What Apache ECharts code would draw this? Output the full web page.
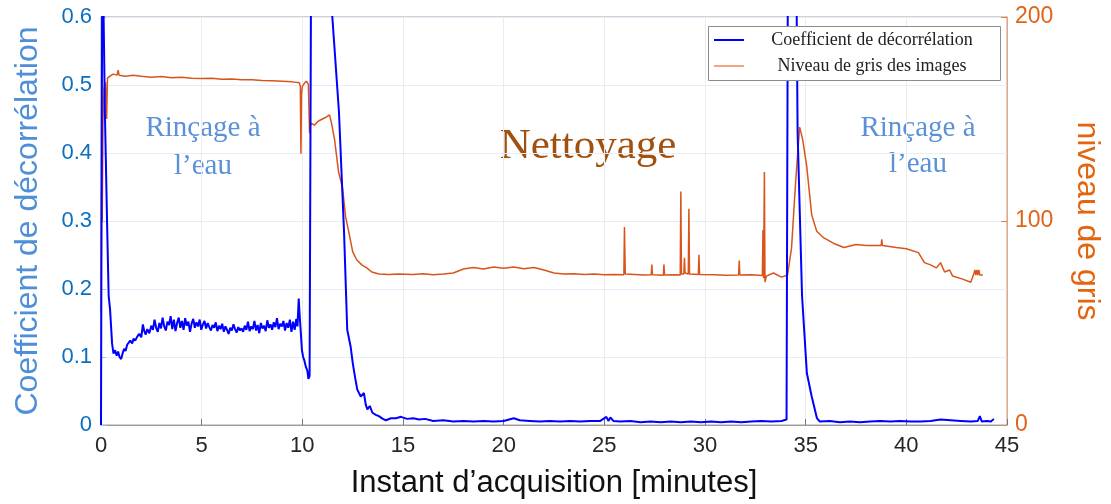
<!DOCTYPE html>
<html>
<head>
<meta charset="utf-8">
<script src="https://cdn.jsdelivr.net/npm/echarts@6/dist/echarts.min.js"></script>
<style>
  html, body { margin: 0; padding: 0; background: #fff; overflow: hidden; width: 1111px; height: 504px; }
  #chart { width: 1111px; height: 504px; }
</style>
</head>
<body>
<div id="chart"></div>
<script>
// coefficient de décorrélation (left axis), time in minutes
const tBlue = [0, 0.03, 0.07, 0.12, 0.2, 0.3, 0.38, 0.45, 0.55, 0.62, 0.7, 0.78, 0.85, 0.92, 1.0, 1.08, 1.15, 1.22, 1.3, 1.38,
  1.45, 1.55, 1.62, 1.7, 1.8, 1.9, 2.0, 2.08, 2.15, 2.22, 2.3, 2.4, 2.5, 2.58, 2.66, 2.74, 2.82, 2.9, 2.98, 3.06,
  3.14, 3.22, 3.3, 3.38, 3.46, 3.54, 3.62, 3.7, 3.78, 3.86, 3.94, 4.02, 4.1, 4.18, 4.26, 4.34, 4.42, 4.5, 4.58, 4.66,
  4.74, 4.82, 4.9, 4.98, 5.06, 5.14, 5.22, 5.3, 5.38, 5.46, 5.54, 5.62, 5.7, 5.78, 5.86, 5.94, 6.02, 6.1, 6.18, 6.26,
  6.34, 6.42, 6.5, 6.58, 6.66, 6.74, 6.82, 6.9, 6.98, 7.06, 7.14, 7.22, 7.3, 7.38, 7.46, 7.54, 7.62, 7.7, 7.78, 7.86,
  7.94, 8.02, 8.1, 8.18, 8.26, 8.34, 8.42, 8.5, 8.58, 8.66, 8.74, 8.82, 8.9, 8.98, 9.06, 9.14, 9.22, 9.3, 9.38, 9.46,
  9.54, 9.62, 9.7, 9.76, 9.82, 9.87, 9.92, 9.98, 10.04, 10.1, 10.18, 10.25, 10.3, 10.36, 10.5, 10.9, 11.3, 11.49, 11.82, 12.07,
  12.23, 12.4, 12.51, 12.62, 12.73, 12.9, 13.06, 13.15, 13.23, 13.35, 13.48, 13.65, 13.8, 14.0, 14.15, 14.4, 14.65, 14.9, 15.2, 15.5,
  15.8, 16.1, 16.5, 17.0, 17.5, 18.0, 18.5, 19.0, 19.5, 20.0, 20.5, 20.8, 21.3, 21.8, 22.3, 22.8, 23.3, 23.8, 24.3, 24.8,
  25.1, 25.2, 25.3, 25.45, 25.8, 26.3, 26.8, 27.3, 27.8, 28.3, 28.8, 29.3, 29.8, 30.3, 30.8, 31.3, 31.8, 32.3, 32.8, 33.3,
  33.8, 34.05, 34.15, 34.45, 34.6, 34.82, 35.06, 35.3, 35.56, 35.7, 36.2, 36.7, 37.2, 37.7, 38.2, 38.7, 39.2, 39.7, 40.2, 40.7,
  41.2, 41.7, 42.2, 42.7, 43.2, 43.55, 43.65, 43.75, 44.0, 44.2, 44.35];
const coefBlue = [0, 0.35, 0.75, 0.62, 0.45, 0.3, 0.19, 0.17, 0.12, 0.105, 0.11, 0.102, 0.108, 0.1, 0.097, 0.106, 0.112, 0.109, 0.118, 0.116,
  0.124, 0.12, 0.127, 0.124, 0.13, 0.134, 0.129, 0.148, 0.138, 0.133, 0.141, 0.135, 0.146, 0.14, 0.155, 0.143, 0.137, 0.15, 0.142, 0.158,
  0.145, 0.139, 0.152, 0.147, 0.16, 0.141, 0.155, 0.138, 0.15, 0.158, 0.143, 0.153, 0.14, 0.157, 0.146, 0.152, 0.137, 0.149, 0.156, 0.143,
  0.151, 0.145, 0.155, 0.14, 0.148, 0.153, 0.142, 0.15, 0.144, 0.139, 0.147, 0.143, 0.151, 0.138, 0.146, 0.141, 0.149, 0.137, 0.145, 0.14,
  0.134, 0.143, 0.139, 0.148, 0.141, 0.136, 0.144, 0.139, 0.142, 0.137, 0.146, 0.14, 0.152, 0.138, 0.145, 0.141, 0.153, 0.139, 0.147, 0.135,
  0.15, 0.142, 0.146, 0.138, 0.154, 0.143, 0.148, 0.14, 0.151, 0.144, 0.157, 0.141, 0.149, 0.145, 0.153, 0.139, 0.15, 0.143, 0.155, 0.137,
  0.152, 0.14, 0.156, 0.145, 0.186, 0.16, 0.138, 0.11, 0.1, 0.095, 0.085, 0.08, 0.068, 0.072, 1.2, 1.0, 0.75, 0.6, 0.46, 0.285,
  0.14, 0.115, 0.09, 0.07, 0.052, 0.042, 0.047, 0.03, 0.023, 0.028, 0.018, 0.015, 0.013, 0.009, 0.007, 0.01, 0.01, 0.012, 0.009, 0.01,
  0.008, 0.009, 0.006, 0.007, 0.005, 0.006, 0.005, 0.006, 0.005, 0.006, 0.01, 0.007, 0.006, 0.005, 0.006, 0.005, 0.006, 0.005, 0.006, 0.006,
  0.012, 0.006, 0.011, 0.006, 0.005, 0.006, 0.004, 0.005, 0.004, 0.005, 0.004, 0.005, 0.004, 0.005, 0.004, 0.005, 0.004, 0.005, 0.006, 0.005,
  0.006, 0.008, 1.0, 1.0, 0.43, 0.19, 0.076, 0.042, 0.01, 0.005, 0.006, 0.004, 0.005, 0.004, 0.005, 0.006, 0.005, 0.006, 0.005, 0.005,
  0.006, 0.008, 0.007, 0.006, 0.005, 0.006, 0.013, 0.005, 0.006, 0.005, 0.009];

// niveau de gris des images (right axis), time in minutes
const tGray = [0, 0.03, 0.06, 0.1, 0.15, 0.22, 0.28, 0.32, 0.45, 0.6, 0.8, 0.85, 0.9, 1.2, 1.6, 2.0, 2.5, 3.0, 3.5, 4.0,
  4.5, 5.0, 5.5, 6.0, 6.5, 7.0, 7.5, 8.0, 8.5, 9.0, 9.5, 9.85, 9.9, 9.93, 9.96, 10.0, 10.1, 10.2, 10.3, 10.36,
  10.42, 10.6, 10.8, 11.0, 11.2, 11.35, 11.45, 11.6, 11.8, 12.0, 12.15, 12.3, 12.5, 12.7, 12.95, 13.2, 13.45, 13.8, 14.3, 14.8,
  15.5, 16.0, 16.5, 17.0, 17.5, 18.0, 18.5, 19.0, 19.5, 20.0, 20.5, 21.0, 21.5, 22.0, 22.5, 23.0, 23.5, 24.0, 24.5, 25.0,
  25.5, 25.97, 26.0, 26.04, 26.5, 27.0, 27.33, 27.36, 27.39, 27.93, 27.96, 27.99, 28.5, 28.77, 28.8, 28.83, 28.95, 28.98, 29.01, 29.17,
  29.2, 29.23, 29.67, 29.7, 29.73, 30.5, 31.0, 31.67, 31.7, 31.73, 32.3, 32.85, 32.88, 32.91, 32.95, 32.98, 33.05, 33.4, 33.8, 34.1,
  34.3, 34.5, 34.7, 34.85, 35.05, 35.3, 35.55, 35.9, 36.4, 36.9, 37.5, 38.0, 38.4, 38.75, 38.78, 38.81, 39.5, 40.0, 40.6, 40.9,
  41.2, 41.5, 41.7, 41.9, 42.15, 42.3, 42.8, 43.2, 43.35, 43.4, 43.45, 43.5, 43.55, 43.6, 43.65, 43.8];
const grayLevel = [55, 115, 100, 150, 165, 168, 150, 170, 171, 172, 171.5, 174, 171.5, 171, 171.5, 171, 170.5, 170.8, 170.2, 170.5,
  170, 169.8, 170, 169.5, 169.6, 169.2, 169.3, 168.9, 168.8, 168.5, 168.2, 167.8, 166, 133, 162, 166, 167.5, 168.5, 167, 143,
  148, 147, 149, 150, 151, 152, 148, 140, 124, 116, 102, 95, 85, 81, 78.5, 77, 75, 74, 73.8, 74,
  73.8, 74.2, 73.6, 74, 74.5, 76.5, 77.2, 76.5, 77.4, 76.8, 77.5, 76.6, 77.2, 76, 74.5, 74, 74.2, 73.8, 74, 73.6,
  73.8, 73.6, 97, 74, 73.8, 73.5, 73.6, 78.6, 73.6, 73.4, 78.6, 73.5, 73.6, 73.5, 114.5, 74, 74, 82, 74.5, 74,
  106, 74, 73.8, 83.5, 73.8, 73.6, 73.4, 73.5, 80.6, 73.5, 73.6, 73.3, 95.6, 72, 124, 70, 73, 74.5, 72.5, 73.5,
  87, 119, 146, 140, 127, 103, 95, 91.7, 89, 87, 88.5, 88, 88, 88, 91, 88, 87, 86.4, 84.5, 79.6,
  78.5, 77, 79.6, 75, 76, 73, 71.5, 70, 74, 76, 73.5, 76, 73.5, 76, 73.5, 73.5];

const xTicks = [0, 45, 5];        // min, max, interval (minutes)
const yLeftTicks = [0, 0.6, 0.1];
const yRightTicks = [0, 200, 100];

const chart = echarts.init(document.getElementById('chart'), null, { width: 1111, height: 504 });
const sans = 'Liberation Sans';
const serif = 'Liberation Serif';

const option = {
  animation: false,
  textStyle: { fontFamily: sans },
  grid: { left: 101, right: 100, top: 17, bottom: 75, show: true, borderColor: '#a3a3a3', borderWidth: 1 },
  legend: {
    orient: 'vertical', left: 714, top: 31, z: 12,
    padding: 0, itemGap: 8, itemWidth: 30, itemHeight: 2,
    data: [
      { name: 'Coefficient de décorrélation', icon: 'rect', itemStyle: { color: '#0000ff' } },
      { name: 'Niveau de gris des images', icon: 'rect', itemStyle: { color: '#f4a582' } }
    ],
    formatter: n => '{c|' + n + '}',
    textStyle: { rich: { c: { width: 246, align: 'center', fontFamily: serif, fontSize: 18, lineHeight: 20, color: '#222' } } }
  },
  xAxis: {
    type: 'value', min: xTicks[0], max: xTicks[1], interval: xTicks[2],
    name: 'Instant d’acquisition [minutes]', nameLocation: 'middle', nameGap: 43,
    nameTextStyle: { fontSize: 31, color: '#111', fontFamily: sans },
    axisLine: { lineStyle: { color: '#9a9a9a' } },
    axisTick: { inside: true, length: 6, lineStyle: { color: '#777' } },
    axisLabel: { fontSize: 22, color: '#262626', margin: 10 },
    splitLine: { lineStyle: { color: '#ececec' } }
  },
  yAxis: [{
    type: 'value', position: 'left', min: yLeftTicks[0], max: yLeftTicks[1], interval: yLeftTicks[2],
    name: 'Coefficient de décorrélation', nameLocation: 'middle', nameGap: 57,
    nameTextStyle: { fontSize: 32, color: '#4f8ed8', fontFamily: sans },
    axisLine: { show: true, lineStyle: { color: '#9cc3e6' } },
    axisTick: { show: true, inside: true, length: 5, lineStyle: { color: '#9cc3e6' } },
    axisLabel: { fontSize: 22, color: '#0b6fbf', margin: 9 },
    splitLine: { lineStyle: { color: '#e4eefa' } }
  }, {
    type: 'value', position: 'right', min: yRightTicks[0], max: yRightTicks[1], interval: yRightTicks[2],
    name: 'niveau de gris', nameLocation: 'middle', nameGap: 64, nameRotate: -90,
    nameTextStyle: { fontSize: 32, color: '#e4650f', fontFamily: sans },
    axisLine: { show: true, lineStyle: { color: '#f2a27a' } },
    axisTick: { show: true, inside: true, length: 6, lineStyle: { color: '#e8804a' } },
    axisLabel: { fontSize: 23, color: '#e0631a', margin: 8 },
    splitLine: { show: false }
  }],
  graphic: [
    // legend frame
    { type: 'rect', z: 11, shape: { x: 708.5, y: 26.5, width: 292, height: 54 }, style: { fill: '#fff', stroke: '#8c8c8c', lineWidth: 1 } },
    { type: 'text', x: 203, y: 128, style: { text: 'Rinçage à', font: '29px "Liberation Serif"', fill: '#5b91d6', align: 'center', verticalAlign: 'middle' } },
    { type: 'text', x: 203, y: 166, style: { text: 'l’eau', font: '29px "Liberation Serif"', fill: '#5b91d6', align: 'center', verticalAlign: 'middle' } },
    { type: 'text', x: 918, y: 128, style: { text: 'Rinçage à', font: '29px "Liberation Serif"', fill: '#5b91d6', align: 'center', verticalAlign: 'middle' } },
    { type: 'text', x: 918, y: 164, style: { text: 'l’eau', font: '29px "Liberation Serif"', fill: '#5b91d6', align: 'center', verticalAlign: 'middle' } },
    { type: 'text', x: 588, y: 147, style: { text: 'Nettoyage', font: '43px "Liberation Serif"', fill: '#a0510f', align: 'center', verticalAlign: 'middle' } }
  ],
  series: [{
    name: 'Niveau de gris des images', type: 'line', yAxisIndex: 1, symbol: 'none',
    lineStyle: { color: '#d9541a', width: 1.5 }, itemStyle: { color: '#f4a582' },
    data: tGray.map((t, i) => [t, grayLevel[i]])
  }, {
    name: 'Coefficient de décorrélation', type: 'line', yAxisIndex: 0, symbol: 'none',
    lineStyle: { color: '#0000ff', width: 2 }, itemStyle: { color: '#0000ff' },
    data: tBlue.map((t, i) => [t, coefBlue[i]])
  }]
};
chart.setOption(option);
</script>
</body>
</html>
